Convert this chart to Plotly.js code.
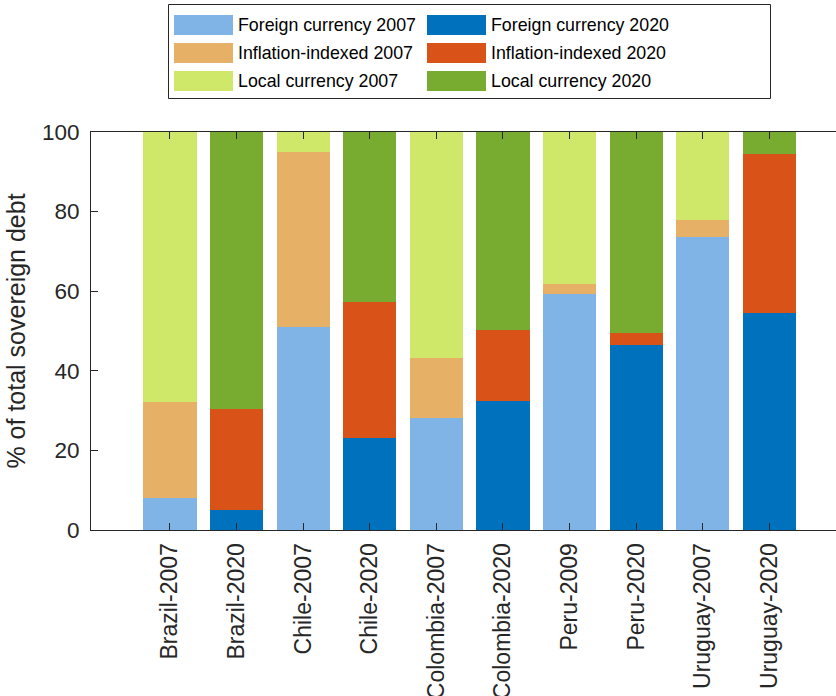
<!DOCTYPE html>
<html>
<head>
<meta charset="utf-8">
<script src="https://cdn.plot.ly/plotly-3.0.1.min.js"></script>
<style>
  html, body { margin: 0; padding: 0; background: #ffffff; }
  #chart { width: 836px; height: 696px; }
</style>
</head>
<body>
<div id="chart"></div>
<script>
// Composition of sovereign debt by currency type (% of total)
const categories = ['Brazil-2007', 'Brazil-2020', 'Chile-2007', 'Chile-2020', 'Colombia-2007',
                    'Colombia-2020', 'Peru-2009', 'Peru-2020', 'Uruguay-2007', 'Uruguay-2020'];

const foreign2007   = [8.1,  null, 51.1, null, 28.1, null, 59.3, null, 73.5, null];
const inflation2007 = [24.0, null, 43.8, null, 15.0, null, 2.6,  null, 4.5,  null];
const local2007     = [67.9, null, 5.1,  null, 56.9, null, 38.1, null, 22.0, null];

const foreign2020   = [null, 5.0,  null, 23.1, null, 32.3, null, 46.6, null, 54.4];
const inflation2020 = [null, 25.3, null, 34.1, null, 18.0, null, 3.0,  null, 40.1];
const local2020     = [null, 69.7, null, 42.8, null, 49.7, null, 50.4, null, 5.5];

const yTicks = [0, 20, 40, 60, 80, 100];

const seriesNames = ['Foreign currency 2007', 'Foreign currency 2020',
                     'Inflation-indexed 2007', 'Inflation-indexed 2020',
                     'Local currency 2007', 'Local currency 2020'];
const seriesValues = [foreign2007, foreign2020, inflation2007, inflation2020, local2007, local2020];
const seriesColors = ['#80B3E6', '#0072BD', '#E6B167', '#D95319', '#CFE86A', '#77AC30'];

const xPos = categories.map((_, i) => i + 1);

const traces = seriesNames.map((name, k) => ({
  type: 'bar',
  name: name,
  x: xPos,
  y: seriesValues[k],
  marker: { color: seriesColors[k], line: { width: 0 } },
  hoverinfo: 'name+y',
  showlegend: false
}));

// Plot area geometry (pixels)
const W = 836, H = 696;
const M = { l: 91, r: 0, t: 132, b: 166 };
const plotW = W - M.l - M.r, plotH = H - M.t - M.b;
const px = x => (x - M.l) / plotW;
const py = y => (H - M.b - y) / plotH;

// Legend drawn as a boxed 2x3 grid of swatches and labels above the axes
const shapes = [{
  type: 'rect', xref: 'paper', yref: 'paper',
  x0: px(168.5), x1: px(770.5), y0: py(98.5), y1: py(4.5),
  line: { color: '#262626', width: 1 }, fillcolor: '#ffffff', layer: 'above'
}];
const annotations = [];
const colX = [174, 427];
const rowY = [15, 43, 71];
seriesNames.forEach((name, k) => {
  const c = k % 2, r = Math.floor(k / 2);
  shapes.push({
    type: 'rect', xref: 'paper', yref: 'paper',
    x0: px(colX[c]), x1: px(colX[c] + 59), y0: py(rowY[r] + 20), y1: py(rowY[r]),
    line: { width: 0 }, fillcolor: seriesColors[k], layer: 'above'
  });
  annotations.push({
    xref: 'paper', yref: 'paper', x: px(colX[c] + 62), y: py(rowY[r] + 10),
    xanchor: 'left', yanchor: 'middle', showarrow: false,
    text: name, font: { size: 17.8, color: '#000000' }
  });
});

const layout = {
  width: W, height: H,
  margin: M,
  paper_bgcolor: '#ffffff', plot_bgcolor: '#ffffff',
  font: { family: 'Liberation Sans, Arial, Helvetica, sans-serif', color: '#262626' },
  barmode: 'stack',
  bargap: 0.2,
  showlegend: false,
  xaxis: {
    range: [-0.186, 11.0],
    tickvals: xPos, ticktext: categories,
    tickangle: -90,
    tickfont: { size: 23, color: '#262626' },
    ticks: 'inside', ticklen: 7, tickwidth: 1, tickcolor: '#262626',
    showline: true, linecolor: '#262626', linewidth: 1,
    mirror: 'ticks',
    showgrid: false, zeroline: false,
    ticklabelstandoff: 3
  },
  yaxis: {
    range: [0, 100],
    tickvals: yTicks,
    tickfont: { size: 22.5, color: '#262626' },
    ticks: 'inside', ticklen: 7, tickwidth: 1, tickcolor: '#262626',
    showline: true, linecolor: '#262626', linewidth: 1,
    showgrid: false, zeroline: false,
    ticklabelstandoff: 6,
    title: { text: '% of total sovereign debt', font: { size: 25, color: '#262626' }, standoff: 9 }
  },
  shapes: shapes,
  annotations: annotations
};

Plotly.newPlot('chart', traces, layout, { displayModeBar: false, staticPlot: true });
</script>
</body>
</html>
